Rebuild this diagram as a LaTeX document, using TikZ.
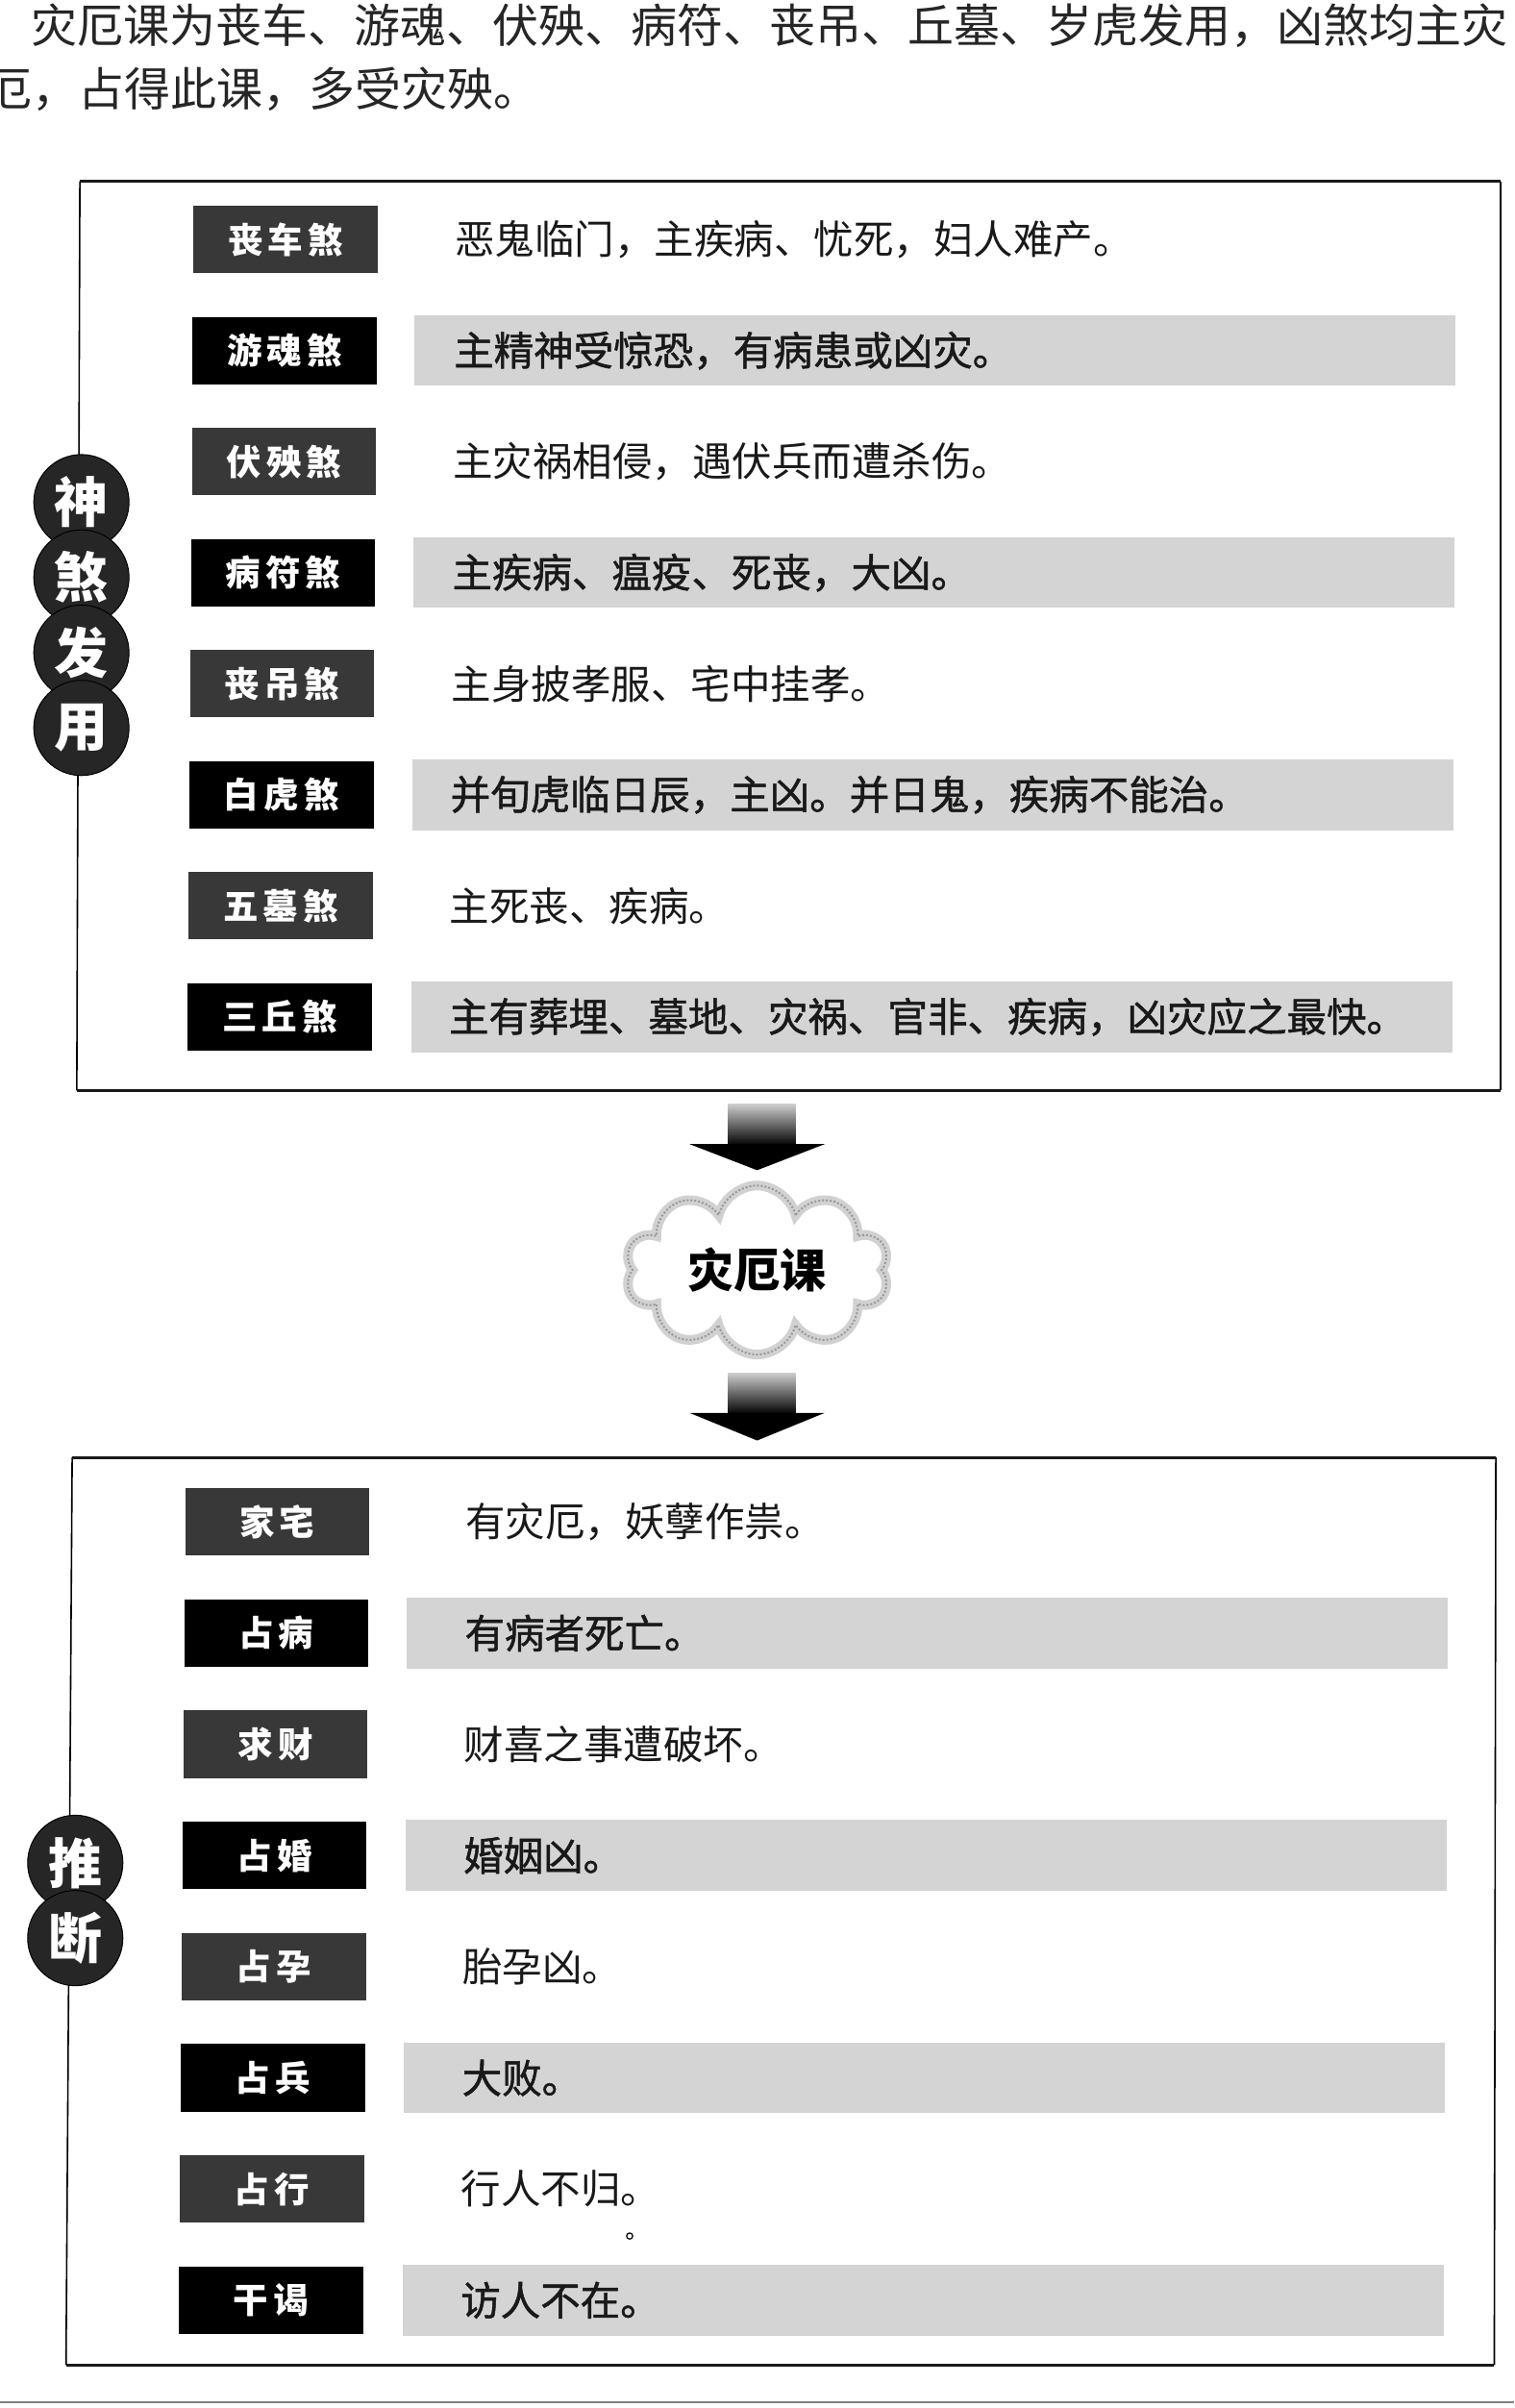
\documentclass[tikz,border=0pt]{standalone}
\usepackage{fontspec}
\setmainfont{Noto Sans CJK SC}
\usetikzlibrary{shapes.symbols}
\newcommand\descfont{\fontsize{41.5pt}{48pt}\selectfont}
\newcommand\descbfont{\fontsize{41.5pt}{48pt}\selectfont\addfontfeatures{FakeBold=1.2}}
\newcommand\lblfont{\fontsize{36.5pt}{42pt}\selectfont\bfseries\addfontfeatures{LetterSpace=14}}
\newcommand\ballfont{\fontsize{56pt}{60pt}\selectfont\bfseries}
\newcommand\headfont{\fontsize{48pt}{54pt}\selectfont}
\newcommand\cloudfont{\fontsize{48pt}{54pt}\selectfont\bfseries}
\tikzset{
  lbl/.style={minimum width={120*1.5974pt}, minimum height={44*1.5974pt}, inner sep=0pt, text=white, font=\lblfont},
  lbldark/.style={lbl, fill=black!78},
  lblblack/.style={lbl, fill=black},
  desc/.style={anchor=west, inner sep=0pt, text=black!90, font=\descfont},
  band/.style={anchor=west, fill=black!17, draw=none, inner sep=0pt, minimum width={678*1.5974pt}, minimum height={46*1.5974pt}},
  ball/.style={circle, fill=black!85, draw=black, line width=1pt, minimum size={62*1.5974pt}, inner sep=0pt, text=white, font=\ballfont},
  side/.style={line width=1.6pt, black},
  edge/.style={line width=3pt, black!90},
  headtext/.style={anchor=west, inner sep=0pt, text=black!85, font=\headfont},
  puff/.style={cloud, cloud puffs=10, cloud ignores aspect, minimum width={172*1.5974pt}, minimum height={110*1.5974pt}, inner sep=0pt},
}
\begin{document}
\begin{tikzpicture}[x=1.5974pt, y=-1.5974pt]
\fill[white] (0,0) rectangle (986,1568);
\useasboundingbox (0,0) rectangle (986,1568);

% heading text
\node[headtext] (h1) at (20,17) {灾厄课为丧车、游魂、伏殃、病符、丧吊、丘墓、岁虎发用，凶煞均主灾};
\node[headtext] (h2) at (-9,58) {厄，占得此课，多受灾殃。};

% ---------- top frame ----------
\coordinate (A1) at (52,118);
\coordinate (A2) at (977,118);
\coordinate (A3) at (977,710);
\coordinate (A4) at (50,710);
\draw[side] (A1) -- (A4);
\draw[side] (A2) -- (A3);
\draw[edge] (A1) -- (A2);
\draw[edge] (A4) -- (A3);

\foreach \i/\lab/\txt in {
  1/丧车煞/恶鬼临门，主疾病、忧死，妇人难产。,
  2/游魂煞/主精神受惊恐，有病患或凶灾。,
  3/伏殃煞/主灾祸相侵，遇伏兵而遭杀伤。,
  4/病符煞/主疾病、瘟疫、死丧，大凶。,
  5/丧吊煞/主身披孝服、宅中挂孝。,
  6/白虎煞/并旬虎临日辰，主凶。并日鬼，疾病不能治。,
  7/五墓煞/主死丧、疾病。,
  8/三丘煞/主有葬埋、墓地、灾祸、官非、疾病，凶灾应之最快。}{
  \pgfmathsetmacro\yy{156+(\i-1)*72.3}
  \pgfmathsetmacro\xl{186-(\i-1)*0.55}
  \pgfmathsetmacro\xd{296-(\i-1)*0.55}
  \pgfmathsetmacro\xb{270-(\i-1)*0.3}
  \ifodd\i
    \node[lbldark] (t\i) at (\xl,\yy) {\lab};
    \node[desc] (d\i) at (\xd,\yy) {\txt};
  \else
    \node[band] (b\i) at (\xb,\yy) {};
    \node[lblblack] (t\i) at (\xl,\yy) {\lab};
    \node[desc, font=\descbfont] (d\i) at (\xd,\yy) {\txt};
  \fi
}

\node[ball] (s1) at (53,327) {神};
\node[ball] (s2) at (53,376) {煞};
\node[ball] (s3) at (53,425) {发};
\node[ball] (s4) at (53,474) {用};

% ---------- arrows and cloud ----------
\shade[top color=black!20, bottom color=black] (474,719) rectangle (518,746);
\fill[black] (449,745) -- (537,745) -- (493,762) -- cycle;

\node[puff, draw=black!18, line width=10pt, fill=white, font=\cloudfont, text=black] (k) at (493,827) {灾厄课};
\node[puff, draw=black!40, line width=2pt, dash pattern=on 2pt off 2pt] (k2) at (493,827) {};

\shade[top color=black!20, bottom color=black] (474,894) rectangle (518,921);
\fill[black] (449,920) -- (537,920) -- (493,938) -- cycle;

% ---------- bottom frame ----------
\coordinate (B1) at (47,949);
\coordinate (B2) at (974,949);
\coordinate (B3) at (973,1540);
\coordinate (B4) at (43,1540);
\draw[side] (B1) -- (B4);
\draw[side] (B2) -- (B3);
\draw[edge] (B1) -- (B2);
\draw[edge] (B4) -- (B3);

\foreach \i/\lab/\txt in {
  1/家宅/有灾厄，妖孽作祟。,
  2/占病/有病者死亡。,
  3/求财/财喜之事遭破坏。,
  4/占婚/婚姻凶。,
  5/占孕/胎孕凶。,
  6/占兵/大败。,
  7/占行/行人不归。,
  8/干谒/访人不在。}{
  \pgfmathsetmacro\yy{991+(\i-1)*72.4}
  \pgfmathsetmacro\xl{180.5-(\i-1)*0.57}
  \pgfmathsetmacro\xd{303-(\i-1)*0.45}
  \pgfmathsetmacro\xb{265-(\i-1)*0.43}
  \ifodd\i
    \node[lbldark] (u\i) at (\xl,\yy) {\lab};
    \node[desc] (e\i) at (\xd,\yy) {\txt};
  \else
    \node[band] (c\i) at (\xb,\yy) {};
    \node[lblblack] (u\i) at (\xl,\yy) {\lab};
    \node[desc, font=\descbfont] (e\i) at (\xd,\yy) {\txt};
  \fi
}

\node[ball] (r1) at (49,1213) {推};
\node[ball] (r2) at (49,1262) {断};

\node[draw=black, line width=1.2pt, circle, inner sep=0pt, minimum size={4*1.5974pt}] (dot) at (410,1456) {};

% page edge line
\coordinate (P1) at (0,1564);
\coordinate (P2) at (986,1564);
\draw[black!50, line width=2pt] (P1) -- (P2);
\end{tikzpicture}
\end{document}
